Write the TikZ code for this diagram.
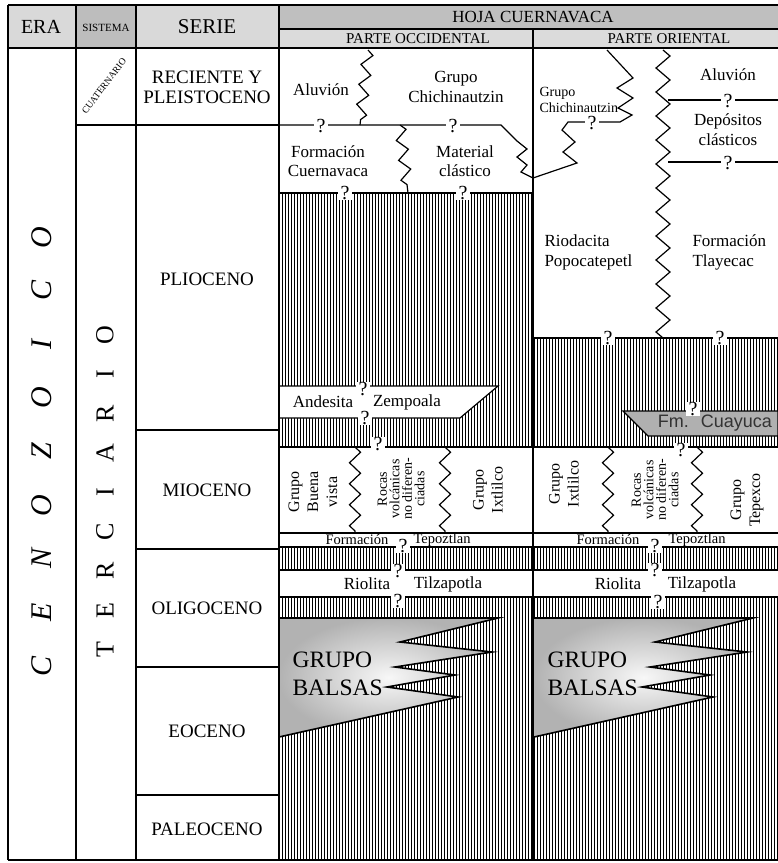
\documentclass[tikz,border=0pt]{standalone}
\usepackage{fontspec}
\setmainfont{Liberation Serif}
\newfontfamily\sansfm{Liberation Sans}
\usetikzlibrary{patterns.meta,decorations.pathmorphing}
\newcommand{\tam}[2]{\fontsize{#1}{#2}\selectfont}
% cuna del Grupo Balsas, #1 = desplazamiento, #2 = nombre
\newcommand{\grupobalsas}[2]
	{
	\begin{scope}[xshift=#1]
	\coordinate (#2a) at (279,618);
	\coordinate (#2b) at (498,618);
	\coordinate (#2c) at (279,737);
	\shade[inner color=gray!6,outer color=gray!60] (#2a) -- (#2b) -- (400,642) -- (492,652) -- (395,667) -- (455,675) -- (387,687) -- (458,697) -- (#2c) -- cycle;
	\draw[line width=1.6pt,line join=miter] (#2a) -- (#2b) -- (400,642) -- (492,652) -- (395,667) -- (455,675) -- (387,687) -- (458,697) -- (#2c);
	\node[anchor=west,align=left,font=\rmfamily\tam{23.5}{28}] (bal#2) at (289,674) {GRUPO\\BALSAS};
	\end{scope}
	}

\begin{document}
\begin{tikzpicture}[x=1pt,y=-1pt,
  rejilla/.style={line width=1.6pt},
  contacto/.style={line width=1.2pt},
  zig/.style={contacto,decorate,decoration={zigzag,segment length=#1,amplitude=5.5pt}},
  zig/.default=20pt,
  rayado/.style={pattern={Lines[angle=90,distance=3pt,line width=1pt]}},
  duda/.style={fill=white,inner xsep=3pt,inner ysep=0.3pt,font=\rmfamily\tam{20}{20}},
  etiq/.style={align=center,font=\tam{17}{19}},
  serie/.style={align=center,font=\tam{19}{20}},
  vert/.style={rotate=90,align=center,font=\tam{16}{19}},
  rocas/.style={rotate=90,align=center,font=\tam{14}{12.5}},
  banda/.style={font=\tam{14.5}{14}}]
\useasboundingbox (0,0) rectangle (778,863);

% encabezado
\fill[gray!30] (8,5) rectangle (76,48);
\fill[gray!52] (76,5) rectangle (136,48);
\fill[gray!30] (136,5) rectangle (279,48);
\fill[gray!50] (279,5) rectangle (778,29);
\fill[gray!28] (279,29) rectangle (778,48);

% rocas rayadas
\fill[rayado] (279,193) rectangle (533,447);
\fill[rayado] (533,338) rectangle (778,447);
\fill[rayado] (279,547) rectangle (778,570);
\fill[rayado] (279,597) rectangle (778,860);

% lentes
\filldraw[contacto,fill=white] (279,386) -- (498,386) -- (460,418) -- (279,418) -- cycle;
\filldraw[contacto,fill=gray!62] (623,411) -- (778,411) -- (778,436) -- (648,436) -- cycle;
\grupobalsas{0pt}{oc}
\grupobalsas{255pt}{or}

% contactos
\draw[contacto,line join=miter] (279,125) -- (501,125) -- (517,141) -- (527,149) -- (517,157) -- (527,165) -- (521,172) -- (533,178) -- (577,163) -- (563,152) -- (575,142) -- (562,130) -- (568,122) -- (620,122) -- (632,115) -- (618,108) -- (633,98) -- (617,88) -- (633,78) -- (607,50);
\draw[zig] (368,50) -- (360,125);
\draw[zig] (400,125) -- (408,193);
\draw[zig=24pt,decoration={amplitude=7pt}] (663,50) -- (663,338);
\draw[contacto] (668,100) -- (778,100);
\draw[contacto] (668,162) -- (778,162);
\draw[contacto] (279,193) -- (533,193);
\draw[contacto] (533,338) -- (778,338);
\foreach \yy in {447,533,547,570,597}
  \draw[contacto] (279,\yy) -- (778,\yy);
\foreach \xx in {355,445,608,697}
  \draw[zig=21pt] (\xx,447) -- (\xx,533);

% rejilla
\draw[rejilla] (8,5) -- (778,5);
\draw[rejilla] (8,48) -- (778,48);
\draw[rejilla] (8,860) -- (778,860);
\draw[rejilla] (279,29) -- (778,29);
\foreach \xx in {8,76,136,279}
  \draw[rejilla] (\xx,5) -- (\xx,860);
\draw[rejilla] (533,29) -- (533,860);
\draw[rejilla] (76,125) -- (279,125);
\foreach \yy in {430,549,667,795}
  \draw[rejilla] (136,\yy) -- (279,\yy);

% encabezados
\node[font=\tam{20}{20}] (hEra) at (41,27) {ERA};
\node[font=\tam{11}{11}] (hSis) at (106,28) {SISTEMA};
\node[font=\tam{21}{21}] (hSer) at (207,27) {SERIE};
\node[font=\tam{17}{17}] (hHoja) at (533,17) {HOJA CUERNAVACA};
\node[font=\tam{15}{15}] (hOcc) at (418,39) {PARTE OCCIDENTAL};
\node[font=\tam{15}{15}] (hOri) at (669,39) {PARTE ORIENTAL};

% era y sistema
\foreach \l [count=\i from 0] in {C,E,N,O,Z,O,I,C,O}
  \node[rotate=90,font=\tam{30}{30}\itshape] (cen\i) at (42,{666-53.6*\i}) {\l};
\foreach \l [count=\i from 0] in {T,E,R,C,I,A,R,I,O}
  \node[rotate=90,font=\tam{26}{26}] (ter\i) at (105,{650-39.4*\i}) {\l};
\node[rotate=53,font=\tam{9.5}{9.5}] (cuat) at (104,86) {CUATERNARIO};

% series
\node[serie] (sRec) at (207,87) {RECIENTE Y\\PLEISTOCENO};
\node[serie] (sPli) at (207,279) {PLIOCENO};
\node[serie] (sMio) at (207,490) {MIOCENO};
\node[serie] (sOli) at (207,608) {OLIGOCENO};
\node[serie] (sEoc) at (207,731) {EOCENO};
\node[serie] (sPal) at (207,829) {PALEOCENO};

% parte occidental
\node[etiq] (aluOc) at (321,90) {Aluvión};
\node[etiq,font=\tam{17}{20}] (chiOc) at (456,87) {Grupo\\Chichinautzin};
\node[etiq] (cue) at (328,161) {Formación\\Cuernavaca};
\node[etiq] (mat) at (465,161) {Material\\clástico};
\node[etiq] (and) at (323,402) {Andesita};
\node[etiq] (zem) at (407,402) {Zempoala};
\node[vert] (bue) at (313,492) {Grupo\\Buena\\vista};
\node[rocas] (rocOc) at (401,489) {Rocas\\volcánicas\\no diferen-\\ciadas};
\node[vert] (ixOc) at (488,490) {Grupo\\Ixtlilco};
\node[banda] (forOc) at (357,540) {Formación};
\node[banda] (tepOc) at (442,540) {Tepoztlan};
\node[etiq] (rioOc) at (367,584) {Riolita};
\node[etiq] (tilOc) at (448,584) {Tilzapotla};

% parte oriental
\node[anchor=west,align=left,font=\tam{14}{16}] (chiOr) at (536,100) {Grupo\\Chichinautzin};
\node[etiq] (aluOr) at (728,75) {Aluvión};
\node[etiq,font=\tam{17}{20}] (dep) at (728,130) {Depósitos\\clásticos};
\node[etiq,anchor=west,align=left,font=\tam{17}{20}] (rio) at (541,252) {Riodacita\\Popocatepetl};
\node[etiq,anchor=west,align=left,font=\tam{17}{20}] (tla) at (689,252) {Formación\\Tlayecac};
\node[font=\sansfm\tam{18}{18},text=black!80] (cuay) at (715,423) {Fm.\hspace{12pt}Cuayuca};
\node[vert] (ixOr) at (564,484) {Grupo\\Ixtlilco};
\node[rocas] (rocOr) at (655,490) {Rocas\\volcánicas\\no diferen-\\ciadas};
\node[vert] (tpx) at (747,500) {Grupo\\Tepexco};
\node[banda] (forOr) at (608,540) {Formación};
\node[banda] (tepOr) at (697,540) {Tepoztlan};
\node[etiq] (rioOr) at (618,584) {Riolita};
\node[etiq] (tilOr) at (702,584) {Tilzapotla};

% interrogaciones
\foreach \px/\py [count=\k] in {321/126,453/126,345/193,463/193,363/389,365/418,378/444,403/546,398/571,398/601,
  592/123,728/101,728/163,608/338,720/338,693/409,681/450,655/546,655/570,658/602}
  \node[duda] (q\k) at (\px,\py) {?};

\end{tikzpicture}
\end{document}
